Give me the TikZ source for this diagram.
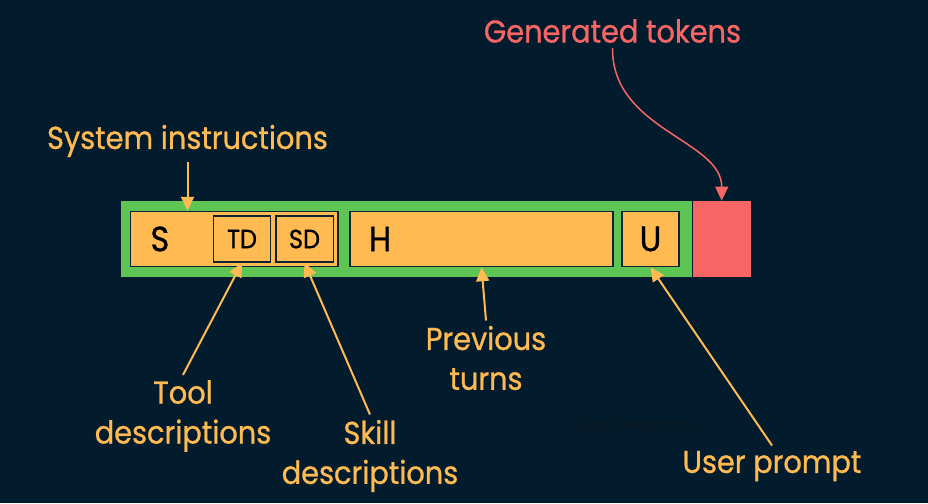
\documentclass[tikz,border=0pt]{standalone}
\usepackage{fontspec}
\setmainfont{Poppins}[FakeStretch=0.91, FakeBold=0.8]
\usetikzlibrary{arrows.meta,positioning}
\definecolor{bg}{HTML}{021B2D}
\definecolor{ctxgreen}{HTML}{5EC453}
\definecolor{tokorange}{HTML}{FFBA52}
\definecolor{genred}{HTML}{F76565}
\definecolor{edge}{HTML}{0E2233}
\definecolor{wmark}{HTML}{0B1922}
\tikzset{
  seg/.style={fill=tokorange, draw=edge, line width=0.03cm, minimum height=1.1cm,
    inner sep=0pt, font=\fontsize{20}{24}\selectfont},
  subseg/.style={seg, minimum width=1.15cm, minimum height=0.92cm, font=\fontsize{15}{18}\selectfont},
  callout/.style={text=tokorange, font=\fontsize{18}{22.7}\selectfont, align=center, inner sep=0.1cm},
  pointer/.style={draw=tokorange, line width=0.04cm, -{Triangle[length=0.28cm,width=0.26cm]}},
}

\begin{document}
\begin{tikzpicture}[x=0.02cm, y={(0cm,-0.02cm)}]
   % Background
   \fill[bg] (0,0) rectangle (928,503);
   \useasboundingbox (0,0) rectangle (928,503);
   % Context window
   \node[fill=ctxgreen, minimum width=11.42cm, minimum height=1.52cm, inner sep=0pt] (ctx) at (406.5,239) {};
   \node[fill=genred, minimum width=1.16cm, minimum height=1.52cm, inner sep=0pt, right=0pt of ctx] (gen) {};
   % Segments
   \node[seg, minimum width=4.15cm, text width=3.35cm, inner xsep=0.4cm, align=left] (S) at (234.25,239) {S};
   \node[subseg] (TD) at (242,239) {TD};
   \node[subseg] (SD) at (304.5,239) {SD};
   \node[seg, minimum width=5.26cm, text width=4.5cm, inner xsep=0.38cm, align=left] (H) at (481.5,239) {H};
   \node[seg, minimum width=1.14cm] (U) at (650.5,239) {U};
   % Labels
   \node[callout] (sys) at (187.5,141) {System instructions};
   \node[callout] (tool) at (183,416) {Tool\\descriptions};
   \node[callout] (skill) at (370,456) {Skill\\descriptions};
   \node[callout] (prev) at (486,358) {Previous\\turns};
   \node[callout] (user) at (772,466) {User prompt};
   \node[callout, text=genred] (gentxt) at (612.5,31) {Generated tokens};
   \node[text=wmark, font=\fontsize{9}{10}\selectfont] (wm) at (637,424) {Alex Ewerlof.com};
   % Arrows
   \draw[pointer] (sys.south) -- (sys.south |- S.north);
   \draw[pointer] (tool.north) -- (TD.south);
   \draw[pointer] (skill.north) -- (SD.south);
   \draw[pointer] (prev.north) -- (H.south);
   \draw[pointer] (user.north) -- (U.south);
   \draw[genred, line width=0.03cm, -{Triangle[length=0.28cm,width=0.26cm]}]
     (gentxt.south) .. controls (612,130) and (722,140) .. (gen.north);
\end{tikzpicture}
\end{document}
